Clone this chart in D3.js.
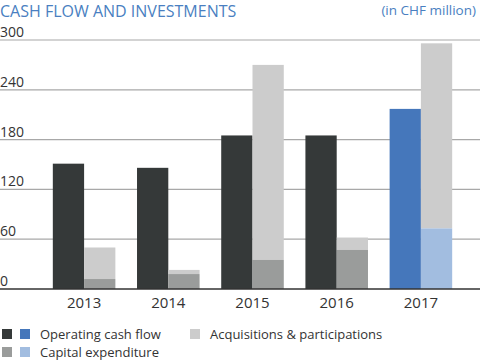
<!DOCTYPE html>
<html>
<head>
<meta charset="utf-8">
<script src="https://cdn.jsdelivr.net/npm/d3@7"></script>
<style>
  body { margin: 0; background: #fff; }
  text { font-family: "Open Sans", sans-serif; }
</style>
</head>
<body>
<svg id="chart" width="480" height="360"></svg>
<script>
const years = ["2013", "2014", "2015", "2016", "2017"];
const operatingCashFlow = [151, 146, 185, 185, 217];
const capitalExpenditure = [12, 18, 35, 47, 73];
const acquisitions = [38, 5, 235, 15, 223];
const yTicks = [0, 60, 120, 180, 240, 300];

const svg = d3.select("#chart");
const width = 480;

const x = d3.scaleBand()
    .domain(years)
    .range([42, 463])
    .paddingInner(0.257)
    .paddingOuter(0.1285);

const y = d3.scaleLinear()
    .domain([0, 300])
    .range([289, 40]);

const darkCol = (i) => years[i] === "2017" ? "#4577bb" : "#353939";
const capexCol = (i) => years[i] === "2017" ? "#a2bde0" : "#9a9c9b";
const acqCol = "#cccccc";

// gridlines
svg.append("g").selectAll("line")
    .data(yTicks.filter(d => d > 0))
    .join("line")
    .attr("x1", 0).attr("x2", width)
    .attr("y1", d => y(d)).attr("y2", d => y(d))
    .attr("stroke", "#a8a8a8")
    .attr("stroke-width", 1.2);

svg.append("g").selectAll("text")
    .data(yTicks)
    .join("text")
    .attr("x", 0)
    .attr("y", d => y(d) - 3)
    .attr("font-size", 14)
    .attr("fill", "#333")
    .text(d => d);

const bw = x.bandwidth() / 2;

const groups = svg.append("g").selectAll("g")
    .data(years)
    .join("g")
    .attr("transform", d => `translate(${x(d)},0)`);

groups.append("rect")
    .attr("x", 0)
    .attr("y", (d, i) => y(operatingCashFlow[i]))
    .attr("width", bw)
    .attr("height", (d, i) => y(0) - y(operatingCashFlow[i]))
    .attr("fill", (d, i) => darkCol(i));

groups.append("rect")
    .attr("x", bw)
    .attr("y", (d, i) => y(capitalExpenditure[i] + acquisitions[i]))
    .attr("width", bw)
    .attr("height", (d, i) => y(capitalExpenditure[i]) - y(capitalExpenditure[i] + acquisitions[i]))
    .attr("fill", acqCol);

groups.append("rect")
    .attr("x", bw)
    .attr("y", (d, i) => y(capitalExpenditure[i]))
    .attr("width", bw)
    .attr("height", (d, i) => y(0) - y(capitalExpenditure[i]))
    .attr("fill", (d, i) => capexCol(i));

// baseline
svg.append("line")
    .attr("x1", 0).attr("x2", width)
    .attr("y1", y(0)).attr("y2", y(0))
    .attr("stroke", "#333")
    .attr("stroke-width", 1.5);

groups.append("text")
    .attr("x", x.bandwidth() / 2)
    .attr("y", 308)
    .attr("text-anchor", "middle")
    .attr("font-size", 15)
    .attr("fill", "#333")
    .text(d => d);

// title
svg.append("text")
    .attr("x", 0).attr("y", 17)
    .attr("font-size", 16)
    .attr("fill", "#4a7fc1")
    .text("CASH FLOW AND INVESTMENTS");

svg.append("text")
    .attr("x", 476).attr("y", 15)
    .attr("text-anchor", "end")
    .attr("font-size", 13.5)
    .attr("fill", "#4a7fc1")
    .text("(in CHF million)");

// legend
const legend = svg.append("g");
const legendItems = [
    { cols: ["#353939", "#4577bb"], label: "Operating cash flow", x: 2, y: 329 },
    { cols: ["#9a9c9b", "#a2bde0"], label: "Capital expenditure", x: 2, y: 347 },
    { cols: [acqCol], label: "Acquisitions & participations", x: 190, y: 329 }
];
for (const item of legendItems) {
    item.cols.forEach((c, k) => {
        legend.append("rect")
            .attr("x", item.x + k * 18)
            .attr("y", item.y)
            .attr("width", 10)
            .attr("height", 10)
            .attr("fill", c);
    });
    legend.append("text")
        .attr("x", item.cols.length === 2 ? 40 : item.x + 20)
        .attr("y", item.y + 10)
        .attr("font-size", 13)
        .attr("fill", "#333")
        .text(item.label);
}
</script>
</body>
</html>
